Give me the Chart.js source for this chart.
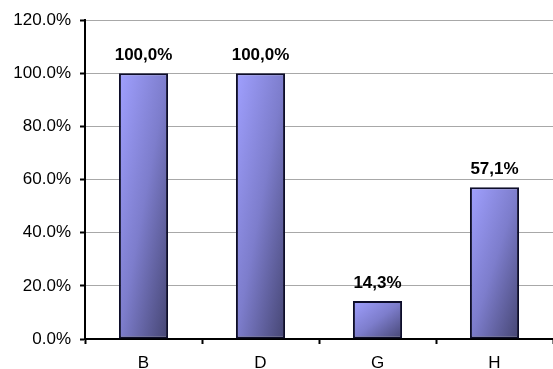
<!DOCTYPE html>
<html>
<head>
<meta charset="utf-8">
<script src="https://cdn.jsdelivr.net/npm/chart.js@4/dist/chart.umd.min.js"></script>
<style>
  html, body { margin: 0; padding: 0; background: #fff; }
  #wrap { width: 553px; height: 369px; }
</style>
</head>
<body>
<div id="wrap"><canvas id="barChart" width="553" height="369"></canvas></div>
<script>
const categories = ['B', 'D', 'G', 'H'];
const shares = [100.0, 100.0, 14.3, 57.1];
const yTicks = [0, 20, 40, 60, 80, 100, 120];

const barFraction = 0.42;

// diagonal shade: light lavender top-left to dark slate bottom-right
function barGradient(context) {
  const chart = context.chart;
  const xs = chart.scales.x, ys = chart.scales.y;
  if (!xs || !ys || context.dataIndex === undefined) return '#8080e0';
  const i = context.dataIndex;
  const step = xs.width / categories.length;
  const w = step * barFraction;
  const cx = xs.getPixelForValue(i);
  const left = cx - w / 2;
  const top = ys.getPixelForValue(shares[i]);
  const h = ys.getPixelForValue(0) - top;
  if (![w, left, top, h].every(Number.isFinite) || w <= 0 || h <= 0) return '#8080e0';
  const k = 2 * w * h / (h * h + w * w);
  const g = chart.ctx.createLinearGradient(left, top, left + h * k, top + w * k);
  g.addColorStop(0, '#a0a0ff');
  g.addColorStop(0.5, '#7d7dcc');
  g.addColorStop(1, '#454572');
  return g;
}

// bold value above each bar, decimal comma
const valueLabels = {
  id: 'valueLabels',
  afterDatasetsDraw(chart) {
    const ctx = chart.ctx;
    const meta = chart.getDatasetMeta(0);
    ctx.save();
    ctx.font = 'bold 17px "Liberation Sans", Arial, sans-serif';
    ctx.fillStyle = '#000';
    ctx.textAlign = 'center';
    ctx.textBaseline = 'alphabetic';
    meta.data.forEach((bar, i) => {
      const txt = shares[i].toFixed(1).replace('.', ',') + '%';
      ctx.fillText(txt, bar.x, bar.y - 13);
    });
    ctx.restore();
  }
};

Chart.defaults.font.family = '"Liberation Sans", Arial, sans-serif';
Chart.defaults.font.size = 17;
Chart.defaults.color = '#000';

new Chart(document.getElementById('barChart').getContext('2d'), {
  type: 'bar',
  data: {
    labels: categories,
    datasets: [{
      data: shares,
      backgroundColor: barGradient,
      borderColor: '#0d0d2a',
      borderWidth: 2,
      borderSkipped: false,
      categoryPercentage: 1,
      barPercentage: barFraction
    }]
  },
  plugins: [valueLabels],
  options: {
    responsive: false,
    animation: false,
    layout: { padding: { top: 20, right: 0, left: 0, bottom: 0 } },
    plugins: {
      legend: { display: false },
      tooltip: { enabled: false }
    },
    scales: {
      x: {
        offset: true,
        afterFit: (s) => { s.height = 30; },
        border: { color: '#000', width: 2 },
        grid: {
          offset: true,
          drawOnChartArea: false,
          drawTicks: true,
          tickLength: 5,
          tickColor: '#000',
          tickWidth: 2
        },
        ticks: { padding: 9 }
      },
      y: {
        min: 0,
        max: 120,
        afterFit: (s) => { s.width = 85; },
        afterBuildTicks: (s) => { s.ticks = yTicks.map(v => ({ value: v })); },
        border: { color: '#000', width: 2 },
        grid: {
          color: '#a8a8a8',
          lineWidth: 1,
          tickLength: 5,
          tickColor: '#000',
          tickWidth: 2
        },
        ticks: {
          padding: 9,
          callback: (v) => v.toFixed(1) + '%'
        }
      }
    }
  }
});
</script>
</body>
</html>
